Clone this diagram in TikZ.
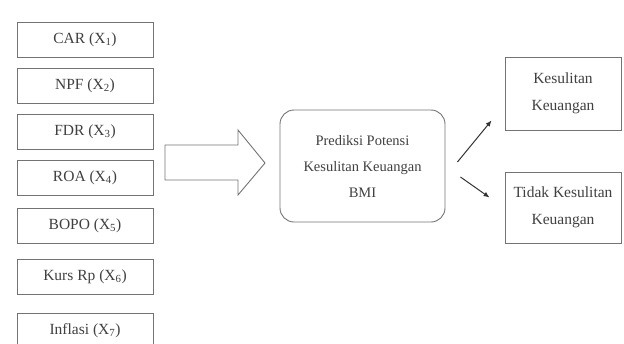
\documentclass[tikz,border=0pt]{standalone}
\usepackage{fontspec}
\setmainfont{Liberation Serif}
\usetikzlibrary{arrows.meta,positioning,calc}

\begin{document}
\begin{tikzpicture}[x=1pt,y=-1pt,
  var/.style={draw=black!55,line width=0.9pt,minimum width=136pt,minimum height=35pt,inner sep=0pt,
    font=\fontsize{15.5}{19}\selectfont,text=black!75},
  outbox/.style={draw=black!55,line width=0.9pt,minimum width=116pt,inner sep=0pt,align=center,
    font=\fontsize{15.5}{27}\selectfont,text=black!75},
  link/.style={-{Latex[length=6pt,width=5pt]},line width=1pt,black!80}]
  \useasboundingbox (0,0) rectangle (624,343);
  \clip (0,0) rectangle (624,343);
  % variabel
  \node[var] (car)  at (85,39.5)  {CAR (X\textsubscript{1})};
  \node[var] (npf)  at (85,85.5)  {NPF (X\textsubscript{2})};
  \node[var] (fdr)  at (85,131.5) {FDR (X\textsubscript{3})};
  \node[var] (roa)  at (85,177.5) {ROA (X\textsubscript{4})};
  \node[var] (bopo) at (85,225.5) {BOPO (X\textsubscript{5})};
  \node[var] (kurs) at (85,276.5) {Kurs Rp (X\textsubscript{6})};
  \node[var] (infl) at (85,330.5) {Inflasi (X\textsubscript{7})};
  % panah besar
  \draw[black!55,line width=0.9pt] (165,145) -- (238,145) -- (238,130) -- (265,163)
    -- (238,195) -- (238,180) -- (165,180) -- cycle;
  % prediksi
  \node[outbox,minimum width=165pt,minimum height=112pt,rounded corners=14pt,
    font=\fontsize{14.5}{26}\selectfont] (pred) at (362.5,166)
    {Prediksi Potensi\\Kesulitan Keuangan\\BMI};
  \node[outbox,minimum height=73pt] (ks)  at (563,93.5)  {Kesulitan\\Keuangan};
  \node[outbox,minimum height=71pt] (tks) at (563,207.5) {Tidak Kesulitan\\Keuangan};
  \draw[link] ($(pred.east)+(12,-4)$) -- ($(ks.south west)+(-13,-10)$);
  \draw[link] ($(pred.east)+(15,11)$) -- ($(tks.west)+(-15,-10)$);
\end{tikzpicture}
\end{document}
